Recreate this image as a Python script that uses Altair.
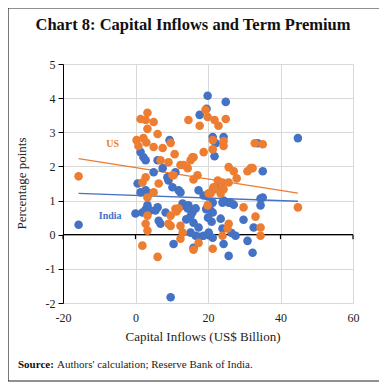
import altair as alt
import pandas as pd

# ---- data ----
us_x = [-15.7, 1.4, 3.3, 2.8, 5.0, 3.3, 6.1, 0.3, 2.2, 0.8, 3.0, 5.0, 7.5, 9.7, 10.8,
        6.9, 9.1, 14.6, 17.7, 19.3, 19.9, 21.8, 22.9, 24.9, 13.3, 14.4, 15.2, 16.0, 18.8,
        12.4, 17.1, 16.0, 10.5, 6.4, 2.8, 1.9, 5.0, 3.3, 21.3, 24.3, 24.3, 21.3, 32.9,
        35.1, 25.7, 27.1, 30.9, 32.3, 27.9, 22.7, 24.0, 25.7, 21.3, 24.3, 20.2, 23.5,
        22.0, 19.9, 29.8, 44.8, 3.3, 2.8, 3.3, 1.9, 6.1, 9.7, 11.0, 11.3, 9.7, 12.4,
        13.0, 12.4, 16.0, 17.4, 21.3, 33.1, 34.5, 34.5, 25.7, 25.4, 24.0, 15.7, 10.2,
        11.9, 9.1, 21.5, 20.7, 31.8]
us_y = [1.71, 3.39, 3.57, 3.36, 3.30, 3.10, 2.95, 2.77, 2.83, 2.60, 2.70, 2.57, 2.54, 2.69, 2.36,
        2.18, 2.12, 3.36, 3.19, 3.66, 3.45, 3.36, 3.19, 3.39, 2.04, 1.95, 2.18, 2.27, 2.42,
        2.04, 1.74, 1.62, 1.74, 1.50, 1.68, 1.53, 1.24, 1.09, 2.77, 2.74, 2.60, 2.50, 2.68,
        2.65, 1.98, 1.86, 1.86, 1.95, 1.65, 1.59, 1.53, 1.53, 1.30, 1.33, 1.21, 1.21,
        1.35, 0.86, 0.80, 0.80, 0.56, 0.32, 0.12, -0.32, -0.65, 0.56, 0.76, 0.68, 0.26, 0.26,
        0.06, -0.12, -0.44, -0.24, -0.41, 0.53, 0.21, -0.03, 0.32, 0.18, -0.03, 2.27, 1.74,
        0.77, 0.32, 1.39, 1.21, 1.95]

india_x = [-15.7, 19.9, 24.9, 17.7, 19.6, 21.3, 24.3, 22.1, 21.8, 33.7, 44.8, 35.1, 9.4,
           1.4, 2.2, 2.8, 6.1, 7.5, 5.0, 8.8, 11.0, 9.1, 10.2, 12.4, 17.4, 0.6, 1.4, 2.8, 3.6,
           19.9, 11.9, 3.3, 6.1, 13.0, 14.6, 13.3, 15.7, 16.0, 21.3, 34.5, 34.5, 24.0, 25.7,
           27.1, 0.0, 1.9, 2.8, 5.5, 6.4, 6.9, 8.3, 9.7, 10.5, 14.4, 15.2, 14.0, 15.2, 16.6,
           17.7, 16.0, 29.8, 32.6, 30.9, 32.3, 25.7, 24.3, 23.5, 24.0, 21.3, 21.0, 21.3, 18.8,
           27.6, 26.5, 20.0, 19.5, 18.8, 22.1, 24.3, 26.2, 16.6, 20.7, 17.4, 20.2, 35.1, 4.1]
india_y = [0.29, 4.07, 3.89, 3.51, 3.69, 2.86, 2.86, 2.68, 2.30, 2.68, 2.83, 1.86, 2.77,
           2.42, 2.27, 2.18, 2.18, 1.95, 1.83, 1.68, 1.83, 1.59, 1.39, 1.24, 1.30, 1.50, 1.24, 1.30, 1.21,
           1.12, 1.30, 0.86, 0.80, 0.91, 0.86, 0.86, 0.65, 0.35, 0.94, 1.06, 0.86, 0.94, 0.94,
           0.88, 0.62, 0.65, 0.74, 0.71, 0.41, 0.32, 0.65, -1.83, -0.27, 0.77, 0.55, 0.45, 0.06, -0.03,
           -0.06, -0.38, 0.44, 0.21, -0.18, -0.53, -0.62, -0.27, 0.47, 0.18, 0.65, 0.38, -0.09, -0.03,
           -0.03, 0.05, 0.50, 0.75, 1.15, 1.39, 1.00, 0.94, 0.77, 0.71, 0.21, 0.06, 1.09, 0.71]

trend_x = [-15.7, 44.8]
us_trend_y = [2.23, 1.22]
india_trend_y = [1.21, 0.98]

series_names = ["India", "US"]
series_colors = ["#4472C4", "#ED7D31"]
x_ticks = [-20, 0, 20, 40, 60]
y_ticks = [-2, -1, 0, 1, 2, 3, 4, 5]

title_text = "Chart 8: Capital Inflows and Term Premium"
x_title = "Capital Inflows (US$ Billion)"
y_title = "Percentage points"
source_bold = "Source:"
source_rest = "Authors' calculation; Reserve Bank of India."

# ---- tables ----
pts = pd.concat([
    pd.DataFrame({"x": india_x, "y": india_y, "s": "India", "o": 0}),
    pd.DataFrame({"x": us_x, "y": us_y, "s": "US", "o": 1}),
])
trend = pd.concat([
    pd.DataFrame({"x": trend_x, "y": india_trend_y, "s": "India"}),
    pd.DataFrame({"x": trend_x, "y": us_trend_y, "s": "US"}),
])
labels = pd.DataFrame({"x": [-6.3, -7.0], "y": [2.65, 0.56], "s": ["US", "India"]})

serif = "Liberation Serif"
xs = alt.Scale(domain=[-20, 60], nice=False, zero=False)
ys = alt.Scale(domain=[-2, 5], nice=False, zero=False)
cs = alt.Scale(domain=series_names, range=series_colors)

x_axis = alt.Axis(values=x_ticks, title=None, domain=False, ticks=False, grid=True,
                  gridColor="#d9d9d9", labelFont=serif, labelFontSize=12, labelColor="#222",
                  labelPadding=9, labelOverlap=False, labelFlush=False,
                  labelExpr="'' + datum.value")
y_axis = alt.Axis(values=y_ticks, title=None, domain=True, domainColor="black", ticks=True,
                  tickColor="black", tickSize=5, grid=True, gridColor="#d9d9d9",
                  labelFont=serif, labelFontSize=12, labelColor="#222", labelPadding=3,
                  labelOverlap=False, labelFlush=False, labelBound=False,
                  labelExpr="'' + datum.value")

X = alt.X("x:Q", scale=xs, axis=x_axis)
Y = alt.Y("y:Q", scale=ys, axis=y_axis)

zero_line = alt.Chart(pd.DataFrame({"x": [-20], "x2": [60], "y": [0]})).mark_rule(
    color="black", strokeWidth=1.2).encode(x=X, x2="x2:Q", y=Y)
zero_ticks = alt.Chart(pd.DataFrame({"x": x_ticks, "y": 0.0, "y2": -0.13})).mark_rule(
    color="black", strokeWidth=1.2).encode(x=X, y=Y, y2="y2:Q")

points = alt.Chart(pts).mark_circle(size=74, opacity=1).encode(
    x=X, y=Y,
    color=alt.Color("s:N", scale=cs, legend=None),
    order=alt.Order("o:Q"),
)

lines = alt.Chart(trend).mark_line(strokeWidth=1.3).encode(
    x=X, y=Y,
    color=alt.Color("s:N", scale=cs, legend=None),
    detail="s:N",
)

series_labels = alt.Chart(labels).mark_text(font=serif, fontSize=10, fontWeight="bold").encode(
    x=X, y=Y,
    text="s:N",
    color=alt.Color("s:N", scale=cs, legend=None),
)

# plot area origin is at page (63, 64); positions below are relative to it
title = alt.Chart(pd.DataFrame({"t": [title_text]})).mark_text(
    font=serif, fontSize=16.5, fontWeight="bold", color="#111", baseline="middle", align="center"
).encode(text="t:N", x=alt.value(130), y=alt.value(-39))

xt = alt.Chart(pd.DataFrame({"t": [x_title]})).mark_text(
    font=serif, fontSize=13, color="#222", baseline="middle", align="center"
).encode(text="t:N", x=alt.value(140), y=alt.value(273))

yt = alt.Chart(pd.DataFrame({"t": [y_title]})).mark_text(
    font=serif, fontSize=13, color="#222", baseline="middle", align="center", angle=270
).encode(text="t:N", x=alt.value(-41), y=alt.value(119.5))

src1 = alt.Chart(pd.DataFrame({"t": [source_bold]})).mark_text(
    font=serif, fontSize=11, fontWeight="bold", color="#111", baseline="middle", align="left"
).encode(text="t:N", x=alt.value(-45), y=alt.value(301))

src2 = alt.Chart(pd.DataFrame({"t": [source_rest]})).mark_text(
    font=serif, fontSize=11, color="#222", baseline="middle", align="left"
).encode(text="t:N", x=alt.value(-6), y=alt.value(301))

border = alt.Chart(pd.DataFrame({"a": [0]})).mark_rect(
    fill=None, fillOpacity=0, stroke="#222", strokeWidth=1.2
).encode(x=alt.value(-55), x2=alt.value(317), y=alt.value(-56), y2=alt.value(317))

chart = alt.layer(
    zero_line, zero_ticks, lines, points, series_labels,
    title, xt, yt, src1, src2, border
).properties(
    width=290, height=239,
    padding={"left": 55, "top": 56, "right": 26, "bottom": 80},
    autosize="none",
    background="white",
).configure_view(stroke=None).configure_axis(labelOverlap=False)

chart.save("out.html", embed_options={"renderer": "svg", "actions": False})
